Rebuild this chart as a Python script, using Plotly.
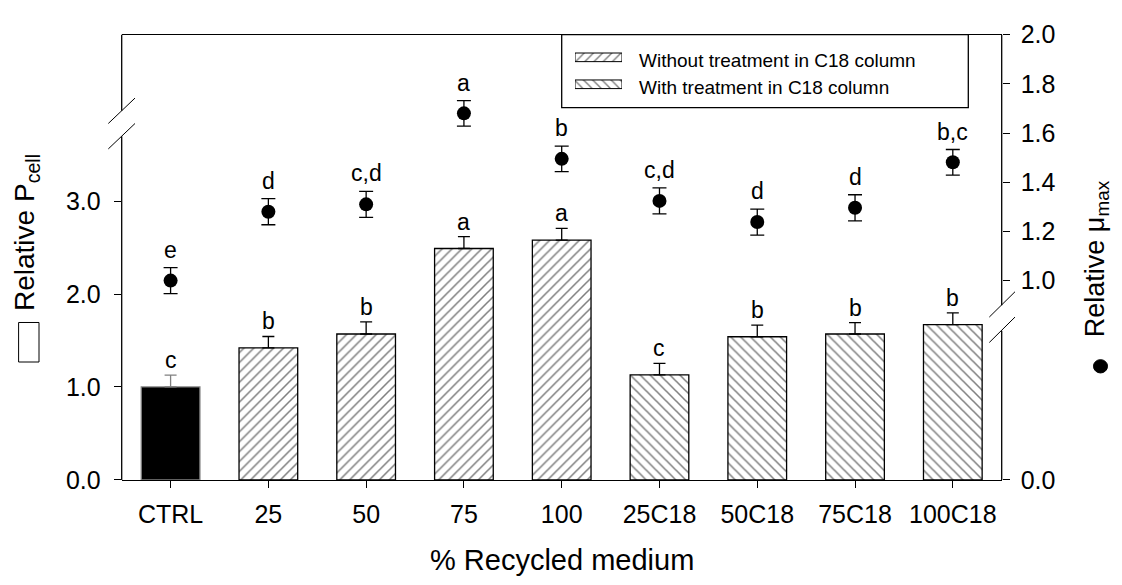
import plotly.graph_objects as go

# ---------------- data ----------------
categories = ['CTRL', '25', '50', '75', '100', '25C18', '50C18', '75C18', '100C18']
pcell = [1.00, 1.42, 1.57, 2.49, 2.58, 1.13, 1.54, 1.57, 1.67]
pcell_err = [0.127, 0.123, 0.13, 0.127, 0.126, 0.123, 0.126, 0.123, 0.127]
pcell_letters = ['c', 'b', 'b', 'a', 'a', 'c', 'b', 'b', 'b']
mu = [1.00, 1.28, 1.31, 1.68, 1.495, 1.324, 1.238, 1.296, 1.481]
mu_err = [0.053, 0.053, 0.053, 0.052, 0.052, 0.053, 0.053, 0.053, 0.052]
mu_letters = ['e', 'd', 'c,d', 'a', 'b', 'c,d', 'd', 'd', 'b,c']
legend_labels = ['Without treatment in C18 column', 'With treatment in C18 column']
left_ticks = [0.0, 1.0, 2.0, 3.0]
right_ticks = [1.0, 1.2, 1.4, 1.6, 1.8, 2.0]

W, H = 1122, 585
FONT = 'Arial, Liberation Sans, sans-serif'


def px(x):
    return x / W


def py(y):
    return 1 - y / H


# plot frame in pixels
XL, XR, YT, YB = 121.7, 1001.7, 21.7, 489.3
left_top = (YB - YT) / 97.6          # left axis: 97.6 px per unit
r_per = 258.3                       # right (upper) axis px per unit
r_lo = 1.0 - (YB - 280.0) / r_per   # value at bottom of domain

fig = go.Figure()

idx_ctrl = [0]
idx_wo = [1, 2, 3, 4]
idx_w = [5, 6, 7, 8]

# CTRL bar
fig.add_trace(go.Bar(
    x=[i for i in idx_ctrl], y=[pcell[i] for i in idx_ctrl],
    width=0.6, marker=dict(color='black', line=dict(color='#808080', width=1.3)),
    error_y=dict(type='data', array=[pcell_err[i] for i in idx_ctrl], arrayminus=[0],
                 symmetric=False, color='#808080', thickness=1.3, width=6),
    showlegend=False, xaxis='x', yaxis='y'))

PAT = dict(fgcolor='black', bgcolor='white', size=7, solidity=0.22)
for idx, shape in ((idx_wo, '/'), (idx_w, '\\')):
    fig.add_trace(go.Bar(
        x=list(idx), y=[pcell[i] for i in idx],
        width=0.6,
        marker=dict(color='white', line=dict(color='black', width=1.3),
                    pattern=dict(shape=shape, **PAT)),
        error_y=dict(type='data', array=[pcell_err[i] for i in idx],
                     arrayminus=[0] * len(idx), symmetric=False,
                     color='black', thickness=1.3, width=6),
        showlegend=False, xaxis='x', yaxis='y'))

# mu max points
fig.add_trace(go.Scatter(
    x=list(range(len(categories))), y=mu, mode='markers',
    marker=dict(color='black', size=14, symbol='circle'),
    error_y=dict(type='data', array=mu_err, color='black', thickness=1.3, width=7),
    showlegend=False, xaxis='x', yaxis='y2'))

# invisible trace to activate the lower right axis (0.0 tick)
fig.add_trace(go.Scatter(x=[0], y=[0], mode='markers',
                         marker=dict(opacity=0), showlegend=False, hoverinfo='skip',
                         xaxis='x', yaxis='y3'))

# legend swatches (patterned horizontal bars on a hidden axis pair)
for row, shape in enumerate(['/', '\\']):
    fig.add_trace(go.Bar(
        x=[1], y=[row], orientation='h', base=0, width=0.32,
        marker=dict(color='white', line=dict(color='black', width=1),
                    pattern=dict(shape=shape, fgcolor='black', bgcolor='white',
                                 size=6.5, solidity=0.22)),
        showlegend=False, hoverinfo='skip', xaxis='x2', yaxis='y4'))

annotations = []
for i, c in enumerate(categories):
    annotations.append(dict(x=i, y=pcell[i] + pcell_err[i], xref='x', yref='y',
                            text=pcell_letters[i], showarrow=False, yanchor='bottom',
                            yshift=0, font=dict(size=23, color='black', family=FONT)))
    annotations.append(dict(x=i, y=mu[i] + mu_err[i], xref='x', yref='y2',
                            text=mu_letters[i], showarrow=False, yanchor='bottom',
                            yshift=3, font=dict(size=23, color='black', family=FONT)))

# legend texts
for k, (lab, yy) in enumerate(zip(legend_labels, [49.0, 77.3])):
    annotations.append(dict(x=px(637), y=py(yy), xref='paper', yref='paper', text=lab,
                            showarrow=False, xanchor='left', yanchor='middle',
                            font=dict(size=19, color='black', family=FONT)))

# axis titles
annotations.append(dict(x=px((XL + XR) / 2), y=py(573), xref='paper', yref='paper',
                        text='% Recycled medium', showarrow=False, xanchor='center',
                        yanchor='middle', font=dict(size=29, color='black', family=FONT)))
annotations.append(dict(x=px(27), y=py(230), xref='paper', yref='paper',
                        text='Relative P<sub>cell</sub>', textangle=-90, showarrow=False,
                        xanchor='center', yanchor='middle',
                        font=dict(size=28, color='black', family=FONT)))
annotations.append(dict(x=px(1097), y=py(257.5), xref='paper', yref='paper',
                        text='Relative \u03bc<sub>max</sub>', textangle=-90, showarrow=False,
                        xanchor='center', yanchor='middle',
                        font=dict(size=27, color='black', family=FONT)))

LW = 1.3
shapes = [
    # left axis with break
    dict(type='line', xref='paper', yref='paper', x0=px(XL), x1=px(XL), y0=py(YB), y1=py(128.3),
         line=dict(color='black', width=LW)),
    dict(type='line', xref='paper', yref='paper', x0=px(XL), x1=px(XL), y0=py(101.6), y1=py(YT),
         line=dict(color='black', width=LW)),
    dict(type='line', xref='paper', yref='paper', x0=px(108.3), x1=px(135), y0=py(115), y1=py(88.3),
         line=dict(color='black', width=1)),
    dict(type='line', xref='paper', yref='paper', x0=px(108.3), x1=px(135), y0=py(141.7), y1=py(115),
         line=dict(color='black', width=1)),
    # right axis with break
    dict(type='line', xref='paper', yref='paper', x0=px(XR), x1=px(XR), y0=py(YB), y1=py(332.7),
         line=dict(color='black', width=LW)),
    dict(type='line', xref='paper', yref='paper', x0=px(XR), x1=px(XR), y0=py(306), y1=py(YT),
         line=dict(color='black', width=LW)),
    dict(type='line', xref='paper', yref='paper', x0=px(989.3), x1=px(1015), y0=py(318.3), y1=py(291.7),
         line=dict(color='black', width=1)),
    dict(type='line', xref='paper', yref='paper', x0=px(989.3), x1=px(1015), y0=py(345), y1=py(318.3),
         line=dict(color='black', width=1)),
    # legend box
    dict(type='rect', xref='paper', yref='paper', x0=px(561.7), x1=px(968.3), y0=py(98.3), y1=py(YT),
         line=dict(color='black', width=LW), fillcolor='rgba(0,0,0,0)'),
    # open rectangle key in left title
    dict(type='rect', xref='paper', yref='paper', x0=px(18.6), x1=px(39), y0=py(365.5), y1=py(324),
         line=dict(color='black', width=1), fillcolor='white'),
    # filled circle key in right title
    dict(type='circle', xref='paper', yref='paper', x0=px(1093.5), x1=px(1107.5), y0=py(377), y1=py(363),
         line=dict(color='black', width=1), fillcolor='black'),
]

ytick_font = dict(size=25, color='black', family=FONT)
fig.update_layout(
    width=W, height=H, margin=dict(l=0, r=0, t=0, b=0),
    paper_bgcolor='white', plot_bgcolor='rgba(0,0,0,0)',
    barmode='overlay', showlegend=False,
    font=dict(family=FONT, color='black'),
    xaxis=dict(domain=[px(XL), px(XR)], range=[-0.5, 8.5],
               tickvals=list(range(len(categories))), ticktext=categories,
               showline=True, mirror=True, linecolor='black', linewidth=LW,
               ticks='outside', ticklen=7, tickwidth=LW, tickcolor='black',
               tickfont=dict(size=25, color='black', family=FONT), ticklabelstandoff=5,
               showgrid=False, zeroline=False, anchor='y'),
    yaxis=dict(domain=[py(YB), py(YT)], range=[0, left_top], tickvals=left_ticks,
               ticktext=['%.1f' % v for v in left_ticks], showline=False,
               ticks='outside', ticklen=7, tickwidth=LW, tickcolor='black',
               tickfont=ytick_font, ticklabelstandoff=8,
               showgrid=False, zeroline=False, anchor='x'),
    yaxis2=dict(overlaying='y', side='right', anchor='x', range=[r_lo, 2.0],
                tickvals=right_ticks, ticktext=['%.1f' % v for v in right_ticks],
                showline=False, ticks='outside', ticklen=7, tickwidth=LW, tickcolor='black',
                tickfont=ytick_font, ticklabelstandoff=6, showgrid=False, zeroline=False),
    yaxis3=dict(overlaying='y', side='right', anchor='x', range=[0, 1], tickvals=[0],
                ticktext=['0.0'], showline=False, ticks='outside', ticklen=7, tickwidth=LW,
                tickcolor='black', tickfont=ytick_font, ticklabelstandoff=6,
                showgrid=False, zeroline=False),
    xaxis2=dict(domain=[px(575), px(622)], range=[0, 1], visible=False, anchor='y4'),
    yaxis4=dict(domain=[py(87.95), py(31.35)], range=[1.5, -0.5], visible=False, anchor='x2'),
    annotations=annotations, shapes=shapes,
)

fig.write_html('out.html')
